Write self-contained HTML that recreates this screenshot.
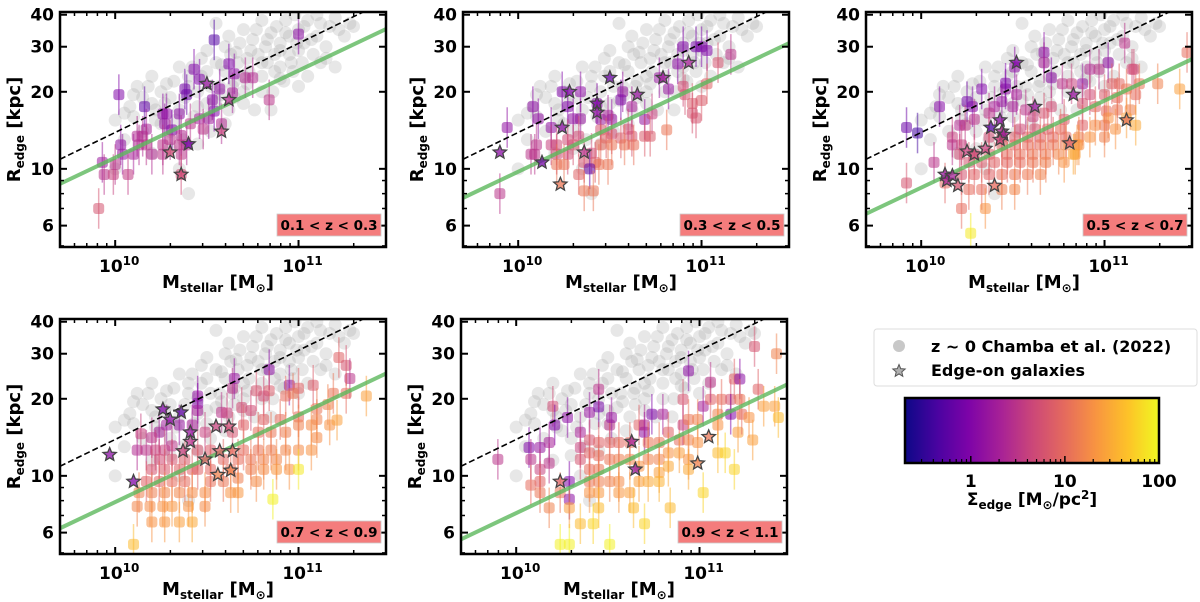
<!DOCTYPE html>
<html><head><meta charset="utf-8"><style>
html,body{margin:0;padding:0;background:#fff;}
svg{display:block;font-family:"DejaVu Sans","Liberation Sans",sans-serif;font-weight:bold;}
</style></head><body>
<svg id="fig" width="1200" height="602" viewBox="0 0 1200 602" xmlns="http://www.w3.org/2000/svg"></svg>
<script>
// ---- data ----
const zLabels = ["0.1 < z < 0.3","0.3 < z < 0.5","0.5 < z < 0.7","0.7 < z < 0.9","0.9 < z < 1.1"];
// reference z~0 sample: [log10 M, R kpc]
const grayPts = [[10.0,15.5],[10.05,13],[10.1,16],[10.15,19],[10.18,21],[10.2,18],[10.22,17],[10.25,15],[10.25,20],[10.3,14],[10.3,19],[10.32,22],[10.35,17],[10.37,13],[10.4,21],[10.42,25],[10.43,16],[10.45,20],[10.47,23],[10.5,29],[10.5,18],[10.52,14],[10.55,26],[10.55,37],[10.57,21],[10.6,30],[10.6,24],[10.62,17],[10.63,28],[10.65,22],[10.67,26],[10.68,31],[10.7,20],[10.7,35],[10.72,27],[10.73,24],[10.75,32],[10.76,17],[10.78,28],[10.8,23],[10.8,38],[10.82,30],[10.83,26],[10.85,34],[10.86,20],[10.87,28],[10.88,36],[10.9,25],[10.9,31],[10.92,22],[10.93,38],[10.95,28],[10.95,33],[10.97,24],[10.98,40],[11.0,29],[11.0,35],[11.02,26],[11.03,31],[11.05,38],[11.05,23],[11.08,28],[11.1,33],[11.1,40],[11.12,26],[11.15,30],[11.17,36],[11.2,25],[11.2,39],[11.25,33],[11.28,37],[10.45,12.5],[10.3,12],[10.6,15],[10.4,8],[10.35,10],[10.0,10],[10.7,18],[10.1,19.5],[10.2,11.5],[10.5,16],[10.65,19],[10.85,17],[11.0,21],[10.35,25],[10.2,23],[10.15,14],[10.08,17.5],[10.12,21],[10.27,18],[10.33,15.5],[10.38,19],[10.4,23],[10.47,27],[10.52,21],[10.55,18.5],[10.58,25.5],[10.62,33],[10.66,28.5],[10.7,23],[10.74,29],[10.77,35],[10.8,26],[10.83,32],[10.87,24],[10.9,29],[10.93,34],[10.96,26],[10.99,31],[11.03,36],[11.07,32],[11.12,37],[11.15,27],[11.22,35],[11.3,36],[10.58,19.5],[10.64,21],[10.72,21.5],[10.8,20],[10.9,22.5],[10.5,24],[10.45,17.5],[10.28,21.5],[10.22,15.5],[10.05,16.5]];
// galaxies per panel: [log10 M, R kpc, Sigma_edge]
const pts1 = [[10.02,19.5,1],[10.16,17.5,0.6],[10.54,31.9,0.5],[11.0,33.6,1.2],[10.43,24.5,1],[10.46,22.4,1],[10.38,20.5,0.8],[10.39,19.5,0.7],[10.62,25.7,1],[10.65,23.5,1.2],[10.71,22.7,2.5],[10.75,22.7,2.5],[10.57,20.5,1.3],[10.64,19.8,2],[10.84,18.6,3],[10.53,18.6,1.2],[10.54,16.8,1],[10.26,16.4,1.3],[10.28,16.4,1.3],[10.35,16.4,1.2],[10.46,15.7,2],[10.51,15.7,1.8],[10.41,15,3],[10.27,15,1.4],[10.31,14.2,1],[10.17,14.3,2],[10.48,14.3,3],[10.58,15,2.5],[10.12,13.4,2.5],[10.15,13.4,2.5],[10.36,13.5,2.5],[10.3,13,3],[10.26,12.4,3],[10.35,12.4,3],[10.39,12.4,2.5],[10.03,12.4,1.3],[10.13,12.4,2.5],[10.17,12.4,3],[10.04,11.4,1.5],[10.1,11.4,2],[10.2,11.4,2.5],[10.26,11.4,3],[10.36,11.4,3],[9.93,10.6,1.6],[9.94,9.5,3],[9.99,9.5,4],[10.07,9.5,3.5],[10.36,9.5,5],[9.91,7.0,6],[10.0,10.4,3]];
const stars1 = [[10.5,21.5,1.5],[10.62,18.6,2.5],[10.4,12.5,0.8],[10.3,11.6,5],[10.58,14,4],[10.36,9.5,5]];
const pts2 = [[9.9,8.0,3],[9.94,14.5,1.3],[10.08,17.5,1.2],[10.11,15.7,1.3],[10.18,14.5,1.3],[10.24,20,1],[10.27,17.5,1],[10.34,20,1.2],[10.3,15.7,1.3],[10.34,15.7,1.5],[10.43,18,1.1],[10.57,20,1.5],[10.56,18.6,1],[10.51,15.6,1.4],[10.45,15.6,1.5],[10.49,16.2,2],[10.62,17.5,2],[10.69,15.6,1.4],[10.73,16.4,4],[10.77,22.7,1.5],[10.82,20.5,1.5],[10.87,25.7,1.2],[10.9,30,1],[10.97,30,0.8],[11.0,30,0.9],[11.03,29,1],[11.16,28,3],[11.09,26,6],[10.9,21,5],[10.91,19.5,6],[10.95,18,7],[10.95,16.5,6],[10.97,15.8,6],[11.0,18.5,7],[11.03,21.5,8],[10.81,14.2,12],[10.51,13.7,5],[10.45,14.2,6],[10.48,13.2,8],[10.56,13.2,7],[10.62,13.4,6],[10.69,13.4,7],[10.72,13.4,7],[10.6,14.3,5],[10.45,12.4,10],[10.51,12.4,12],[10.58,12.4,12],[10.63,12.4,11],[10.33,13.4,5],[10.3,12.4,6],[10.27,13,5],[10.21,12.4,5],[10.18,12.4,4],[10.1,12.4,3],[10.09,11.4,3],[10.21,11.4,5],[10.27,11.4,5],[10.4,11.5,5],[10.36,10.6,6],[10.42,10.6,7],[10.44,10.4,12],[10.49,10.4,12],[10.25,10.4,12],[10.33,9.5,8],[10.39,10.0,0.6],[10.36,8.2,12],[10.41,8.2,12],[10.07,11.4,3],[10.21,10.4,12]];
const stars2 = [[9.9,11.6,1.2],[10.13,10.6,0.8],[10.28,20,1],[10.24,14.5,1.2],[10.43,18,1],[10.43,16.6,1.3],[10.5,22.7,0.7],[10.36,11.6,3],[10.23,8.7,12],[10.65,19.5,1.5],[10.79,22.7,1.8],[10.93,26,2]];
const pts3 = [[9.92,14.5,0.7],[9.98,13.8,0.4],[10.1,17.5,1.1],[10.25,18.3,0.8],[10.28,17.5,1],[10.33,20.5,1],[10.46,20.5,1.3],[10.51,25,1.2],[10.46,21.6,0.9],[10.52,19.5,2],[10.67,28.5,1.2],[10.67,26,2],[10.71,22.7,1.2],[10.77,21.5,3],[10.82,21.5,4],[10.88,21.5,1.5],[10.92,24.5,2.5],[10.97,24.5,3],[11.02,26,1.3],[11.11,31,3],[11.15,24.5,5],[11.16,24.5,5],[11.45,28.5,10],[11.41,20.5,25],[11.29,21.5,15],[11.19,21.5,12],[11.04,21.5,8],[11.08,21.5,9],[11.12,20.5,12],[11.17,19.5,10],[11.07,19,10],[11.0,19.5,7],[10.92,19.5,5],[10.88,18,6],[10.95,17.5,8],[11.01,16.8,10],[11.07,17,12],[11.14,17,15],[11.02,15.8,20],[11.12,15.8,25],[11.17,14.8,30],[11.0,14.8,12],[10.95,14.8,18],[10.88,14.8,8],[10.78,15.6,7],[10.71,17.5,5],[10.67,16.5,6],[10.61,16,4],[10.57,17,3],[10.5,17.5,2],[10.44,18.3,1.5],[10.4,17.5,2],[10.37,16.5,3],[10.29,15.6,3],[10.24,14.8,3.5],[10.21,14.8,2.5],[10.17,13.3,4],[10.17,12.4,3],[10.22,12.4,4],[10.21,11.4,5],[10.29,11.4,5],[10.37,13.3,5],[10.44,13.3,6],[10.51,13.3,7],[10.58,13.3,8],[10.65,13.3,8],[10.72,13.3,9],[10.79,13.3,10],[10.54,14.3,5],[10.62,14.3,6],[10.69,14.3,8],[10.76,14.3,10],[10.86,13.3,15],[10.92,13.3,20],[11.0,13.3,15],[11.06,14.3,20],[10.86,12.4,20],[10.44,12.4,8],[10.51,12.4,9],[10.58,12.4,10],[10.65,12.4,11],[10.72,12.4,12],[10.79,12.4,14],[10.47,11.4,10],[10.54,11.4,11],[10.61,11.4,12],[10.68,11.4,13],[10.75,11.4,16],[10.85,12.4,22],[10.84,11.4,25],[10.37,11.4,7],[10.26,10.6,6],[10.33,10.6,7],[10.4,10.6,8],[10.47,10.6,9],[10.54,10.6,10],[10.61,10.6,12],[10.68,10.6,14],[10.78,10.6,20],[10.83,11.4,30],[10.22,9.5,6],[10.29,9.5,8],[10.37,9.5,8],[10.44,9.5,10],[10.51,9.5,12],[10.58,9.5,13],[10.65,9.5,15],[10.26,8.3,10],[10.33,8.3,10],[10.44,8.3,14],[10.51,8.3,16],[10.13,8.8,9],[9.92,8.8,6],[10.22,7.0,10],[10.35,7.0,20],[10.27,5.6,80],[10.07,10.6,3]];
const stars3 = [[10.13,9.5,1.5],[10.14,9.0,2],[10.17,9.4,2],[10.2,8.6,6],[10.25,11.7,4],[10.29,11.4,5],[10.35,12,4],[10.38,14.5,0.5],[10.43,15.5,1.2],[10.44,14,2],[10.45,13.6,2],[10.43,13,4],[10.4,8.6,10],[10.52,26,1],[10.62,17.5,1.5],[10.81,12.6,8],[10.83,19.5,1.5],[11.12,15.5,12]];
const pts4 = [[10.84,26,1.2],[10.95,22.6,1.5],[11.22,29,8],[11.26,27,6],[11.28,24,3],[11.37,20.5,25],[11.26,21,10],[11.19,21,12],[11.08,22.6,7],[11.0,22,8],[10.93,20.5,10],[10.97,21,12],[10.84,21.5,7],[10.81,20.5,5],[10.77,21.5,6],[10.64,22,3],[10.65,24,1.5],[10.45,20.5,1.3],[10.45,19.2,1],[10.45,18,2],[10.58,17.7,3],[10.61,17.6,4],[10.69,18.5,5],[10.74,18,5],[10.81,16.6,8],[10.9,16.6,10],[11.0,17,10],[11.1,18.3,12],[11.16,19,15],[11.1,16.6,15],[11.17,15.8,20],[11.21,16.5,25],[11.07,15.8,18],[11.0,15.8,15],[10.93,14.8,14],[10.85,14.8,12],[10.78,14.8,10],[10.7,15.8,8],[10.64,14.8,6],[10.49,14.8,4],[10.42,15.8,2],[10.35,15.8,1.5],[10.28,15.8,1.8],[10.24,14.8,2],[10.2,14.1,3],[10.17,12.6,3],[10.12,12.6,2.5],[10.14,14.6,4],[10.22,12.6,4],[10.27,12.6,4],[10.31,13.1,3],[10.45,12.6,6],[10.52,12.6,7],[10.7,12.6,10],[10.78,12.6,12],[10.85,12.6,14],[10.93,12.6,16],[11.0,12.6,18],[11.07,12.6,20],[11.1,14.1,18],[10.24,11.6,5],[10.31,11.6,6],[10.38,11.6,7],[10.45,10.6,8],[10.52,10.6,9],[10.59,11.6,9],[10.67,11.6,10],[10.74,11.6,12],[10.81,11.6,15],[10.88,11.6,16],[10.95,10.6,20],[10.74,10.6,14],[10.81,10.6,18],[10.88,10.6,22],[11.0,10.6,80],[10.2,10.6,6],[10.27,10.6,7],[10.35,10.6,8],[10.42,10.6,8],[10.63,10.6,11],[10.67,9.8,14],[10.77,9.5,18],[10.59,9.5,12],[10.52,9.5,11],[10.38,9.5,10],[10.31,9.5,10],[10.24,9.5,9],[10.17,9.5,8],[10.13,8.6,14],[10.2,8.6,14],[10.27,8.6,16],[10.35,8.6,16],[10.42,8.6,18],[10.49,8.6,18],[10.63,8.6,20],[10.67,8.6,22],[10.86,8.1,90],[10.12,7.6,16],[10.19,7.6,18],[10.26,7.6,20],[10.31,7.6,22],[10.4,7.6,20],[10.49,7.6,18],[10.2,6.6,20],[10.27,6.6,22],[10.35,6.6,25],[10.42,6.6,30],[10.1,5.4,40]];
const stars4 = [[9.97,12.1,1.2],[10.1,9.5,1],[10.26,18.2,1],[10.3,16.6,1.2],[10.36,17.7,0.6],[10.41,14.8,1.5],[10.41,13.6,3],[10.37,12.5,4],[10.49,11.6,8],[10.55,15.6,4],[10.62,15.6,5],[10.57,12.5,8],[10.64,12.5,10],[10.56,10.1,15],[10.63,10.5,15]];
const pts5 = [[9.9,11.6,3],[10.07,12.9,1],[10.08,11.6,3],[10.13,12.9,1.5],[10.2,18.7,5],[10.21,15.8,1],[10.28,16.9,1.2],[10.18,13.5,2],[10.18,11.2,3],[10.13,10.6,4],[10.13,9.5,8],[10.08,9.2,10],[10.13,8.6,12],[10.18,7.5,15],[10.24,8.6,12],[10.29,9.5,1],[10.29,8.1,1.2],[10.35,14.8,2],[10.35,12.9,4],[10.35,11.6,6],[10.4,17.7,1.5],[10.45,18.6,0.8],[10.45,21.8,3],[10.4,13.8,6],[10.4,12.3,8],[10.4,10.6,10],[10.4,9.5,12],[10.4,8.6,20],[10.45,13.5,8],[10.45,12,10],[10.45,10.6,12],[10.45,9.5,14],[10.45,8.6,22],[10.45,7.5,40],[10.51,15.8,3],[10.51,13.5,8],[10.51,11.6,12],[10.51,9.5,15],[10.52,16.9,1.5],[10.56,13.5,9],[10.56,11.6,14],[10.56,9.5,18],[10.56,8.6,22],[10.62,13.5,10],[10.62,11.6,15],[10.62,8.6,25],[10.67,15.8,8],[10.67,10.9,20],[10.67,9.5,25],[10.7,14.8,1.3],[10.7,15.8,2.5],[10.74,17.4,1],[10.72,13.5,12],[10.72,11.6,15],[10.72,9.5,30],[10.78,13.5,12],[10.78,11.6,15],[10.78,10.3,25],[10.78,9.5,35],[10.8,17.4,2],[10.83,14.8,8],[10.83,12.3,20],[10.83,10.9,30],[10.84,7.5,40],[10.89,13.8,10],[10.89,12.3,25],[10.91,19.9,6],[10.91,15.8,4],[10.94,25.7,1.2],[10.94,16.6,12],[10.94,13.8,15],[10.94,11.6,20],[10.94,10.6,30],[10.99,16.6,15],[10.99,13.5,20],[11.02,18.7,2],[11.02,8.6,60],[11.06,19.9,8],[11.06,23.2,3],[11.1,17.4,15],[11.1,15.8,20],[11.1,12.3,40],[11.12,19.9,10],[11.17,19.9,6],[11.17,17.4,1],[11.19,23.9,8],[11.21,14.8,25],[11.22,23.9,1.2],[11.22,19.9,12],[11.23,17.4,10],[11.27,16.9,20],[11.29,13.8,25],[11.32,21.8,8],[11.3,32,6],[11.35,18.7,25],[11.41,18.7,25],[11.42,30,15],[11.43,16.9,40],[11.19,10.6,60],[11.14,12.3,60],[10.24,5.4,90],[10.29,5.4,90],[10.51,5.4,90],[10.7,6.5,60],[10.64,7.5,40],[10.29,7.5,25],[10.35,6.5,40],[10.42,6.5,60]];
const stars5 = [[10.24,9.5,8],[10.63,13.6,2],[10.65,10.6,1.5],[10.99,11.2,15],[11.05,14.2,12]];
// fit lines: R at M=5e9 (left) ; common slope
const greenAt5e9 = [8.74,7.7,6.67,6.24,5.65];
const greenSlope = [0.34,0.34,0.34,0.34,0.34];
const dashAt5e9 = 10.9, dashSlope = 0.348;
const yTicks = [6,10,20,30,40];
const yMinor = [5,7,8,9];
const xMajor = [10,11];
const xMinor = [9.778,9.845,9.903,9.954,10.301,10.477,10.602,10.699,10.778,10.845,10.903,10.954,11.301];
const cbTicks = [1,10,100];

const allPts=[pts1,pts2,pts3,pts4,pts5], allStars=[stars1,stars2,stars3,stars4,stars5];
// ---- layout ----
const NS="http://www.w3.org/2000/svg";
const svg=document.getElementById('fig');
function mk(tag,attrs,parent){const e=document.createElementNS(NS,tag);for(const k in attrs)e.setAttribute(k,attrs[k]);(parent||svg).appendChild(e);return e;}
const frames=[[60,12],[463,12],[866,12],[60,319],[461,319]];
const W=326,H=235;
const XMIN=Math.log10(5e9),XMAX=Math.log10(3e11),YMIN=Math.log10(4.95),YMAX=Math.log10(41);
const stops=[[0,[13,8,135]],[0.13,[75,3,161]],[0.25,[125,3,168]],[0.38,[168,34,150]],[0.5,[203,70,121]],[0.63,[229,107,93]],[0.75,[248,148,65]],[0.88,[253,195,40]],[1,[240,249,33]]];
function cmap(s){let t=Math.log(s/0.2)/Math.log(500);t=Math.max(0,Math.min(1,t));for(let i=1;i<stops.length;i++){if(t<=stops[i][0]){const a=stops[i-1],b=stops[i],f=(t-a[0])/(b[0]-a[0]);const c=a[1].map((v,j)=>Math.round(v+(b[1][j]-v)*f));return `rgb(${c})`;}}return 'rgb(240,249,33)';}
function starPath(cx,cy,r){let d='';for(let i=0;i<10;i++){const rr=i%2?r*0.45:r;const a=-Math.PI/2+i*Math.PI/5;d+=(i?'L':'M')+(cx+rr*Math.cos(a)).toFixed(1)+','+(cy+rr*Math.sin(a)).toFixed(1);}return d+'Z';}

frames.forEach(([fx,fy],p)=>{
  const xs=v=>fx+(v-XMIN)/(XMAX-XMIN)*W;
  const ys=r=>fy+H-(Math.log10(r)-YMIN)/(YMAX-YMIN)*H;
  const g=mk('g',{});
  
  
  const cid='clip'+p;
  const cp=mk('clipPath',{id:cid},g);mk('rect',{x:fx,y:fy,width:W,height:H},cp);
  const pl=mk('g',{'clip-path':`url(#${cid})`},g);
  grayPts.forEach(d=>{const c=mk('circle',{cx:xs(d[0]),cy:ys(d[1]),r:6.5,fill:'#a9a9a9','fill-opacity':0.28},pl);
    
    });
  allPts[p].forEach(d=>{const x=xs(d[0]),y=ys(d[1]),col=cmap(d[2]);
    mk('line',{x1:x,x2:x,y1:ys(d[1]*1.2),y2:ys(d[1]/1.2),stroke:col,'stroke-opacity':0.5,'stroke-width':1.5},pl);
    const r=mk('rect',{x:x-5.5,y:y-5.5,width:11,height:11,rx:3,fill:col,'fill-opacity':0.55},pl);
    
    });
  const l1=mk('line',{x1:xs(XMIN),y1:ys(dashAt5e9),x2:xs(XMAX),y2:ys(dashAt5e9*Math.pow(60,dashSlope)),stroke:'#000','stroke-width':1.6,'stroke-dasharray':'6,3'},pl);
  
  
  const l2=mk('line',{x1:xs(XMIN),y1:ys(greenAt5e9[p]),x2:xs(XMAX),y2:ys(greenAt5e9[p]*Math.pow(60,greenSlope[p])),stroke:'#5cb85c','stroke-opacity':0.8,'stroke-width':4},pl);
  
  
  allStars[p].forEach(d=>{const s=mk('path',{d:starPath(xs(d[0]),ys(d[1]),7),fill:cmap(d[2]),'fill-opacity':0.75,stroke:'#444','stroke-width':1.3},pl);
    
    });
  mk('rect',{x:fx,y:fy,width:W,height:H,fill:'none',stroke:'#000','stroke-width':2.5},g);
  yTicks.forEach(t=>{const y=ys(t);mk('line',{x1:fx,x2:fx+7,y1:y,y2:y,stroke:'#000','stroke-width':2},g);mk('line',{x1:fx+W-7,x2:fx+W,y1:y,y2:y,stroke:'#000','stroke-width':2},g);
    const tx=mk('text',{x:fx-6,y:y+6,'text-anchor':'end','font-size':17},g);tx.textContent=t;
    
    });
  yMinor.forEach(t=>{const y=ys(t);mk('line',{x1:fx,x2:fx+4,y1:y,y2:y,stroke:'#000','stroke-width':1.5},g);mk('line',{x1:fx+W-4,x2:fx+W,y1:y,y2:y,stroke:'#000','stroke-width':1.5},g);});
  xMajor.forEach(t=>{const x=xs(t);mk('line',{x1:x,x2:x,y1:fy+H,y2:fy+H-7,stroke:'#000','stroke-width':2},g);mk('line',{x1:x,x2:x,y1:fy,y2:fy+7,stroke:'#000','stroke-width':2},g);
    const tx=mk('text',{x:x+4,y:fy+H+25,'text-anchor':'middle','font-size':17},g);tx.textContent='10';
    const sp=mk('tspan',{dy:-7,'font-size':12},tx);sp.textContent=String(t);
    
    });
  xMinor.forEach(t=>{const x=xs(t);mk('line',{x1:x,x2:x,y1:fy+H,y2:fy+H-4,stroke:'#000','stroke-width':1.5},g);mk('line',{x1:x,x2:x,y1:fy,y2:fy+4,stroke:'#000','stroke-width':1.5},g);});
  const yl=mk('text',{transform:`translate(${fx-40},${fy+H/2}) rotate(-90)`,'text-anchor':'middle','font-size':18},g);
  yl.textContent='R';const ys1=mk('tspan',{'font-size':12,dy:4},yl);ys1.textContent='edge';const ys2=mk('tspan',{dy:-4},yl);ys2.textContent=' [kpc]';
  
  
  const xl=mk('text',{x:fx+W/2-5,y:fy+H+41,'text-anchor':'middle','font-size':18},g);
  xl.textContent='M';const xs1=mk('tspan',{'font-size':12,dy:4},xl);xs1.textContent='stellar';const xs2=mk('tspan',{dy:-4},xl);xs2.textContent=' [M';const xs3=mk('tspan',{'font-size':12,dy:4},xl);xs3.textContent='⊙';const xs4=mk('tspan',{dy:-4},xl);xs4.textContent=']';
  
  
  const zb=mk('rect',{x:fx+W-109,y:fy+H-33,width:104,height:22,fill:'#f47c7c',stroke:'#ccc','stroke-width':0.8},g);
  
  
  const zt=mk('text',{x:fx+W-57,y:fy+H-17,'text-anchor':'middle','font-size':13.5},g);zt.textContent=zLabels[p];
  
  
});
// legend
const lg=mk('g',{});


mk('rect',{x:874,y:329,width:323,height:57,rx:3,fill:'#fff',stroke:'#ddd','stroke-width':1},lg);
mk('circle',{cx:899,cy:346,r:6,fill:'#c8c8c8'},lg);
const le1=mk('text',{x:931,y:352,'font-size':16},lg);le1.textContent='z ~ 0 Chamba et al. (2022)';


mk('path',{d:starPath(899,371,6.5),fill:'#b0b0b0',stroke:'#555','stroke-width':1},lg);
const le2=mk('text',{x:931,y:376,'font-size':16},lg);le2.textContent='Edge-on galaxies';


// colorbar
const cb=mk('g',{});


const defs=mk('defs',{},cb);const lgd=mk('linearGradient',{id:'plasma',x1:0,x2:1,y1:0,y2:0},defs);
stops.forEach(s=>mk('stop',{offset:s[0],'stop-color':`rgb(${s[1]})`},lgd));
const CBX=905,CBW=254,CBY=398,CBH=65;
mk('rect',{x:CBX,y:CBY,width:CBW,height:CBH,fill:'url(#plasma)',stroke:'#000','stroke-width':2.5},cb);
const cbx=v=>CBX+Math.log(v/0.2)/Math.log(500)*CBW;
[0.3,0.4,0.5,0.6,0.7,0.8,0.9,2,3,4,5,6,7,8,9,20,30,40,50,60,70,80,90].forEach(v=>mk('line',{x1:cbx(v),x2:cbx(v),y1:CBY+CBH,y2:CBY+CBH-4,stroke:'#000','stroke-width':1.2},cb));
cbTicks.forEach(v=>{mk('line',{x1:cbx(v),x2:cbx(v),y1:CBY+CBH,y2:CBY+CBH-7,stroke:'#000','stroke-width':1.5},cb);
  const t=mk('text',{x:cbx(v),y:CBY+CBH+24,'text-anchor':'middle','font-size':17},cb);t.textContent=v;
  
  });
const cl=mk('text',{x:1032,y:505,'text-anchor':'middle','font-size':17},cb);
cl.textContent='Σ';const c1=mk('tspan',{'font-size':12,dy:4},cl);c1.textContent='edge';const c2=mk('tspan',{dy:-4},cl);c2.textContent=' [M';const c3=mk('tspan',{'font-size':12,dy:4},cl);c3.textContent='⊙';const c4=mk('tspan',{dy:-4},cl);c4.textContent='/pc';const c5=mk('tspan',{'font-size':12,dy:-6},cl);c5.textContent='2';const c6=mk('tspan',{dy:6},cl);c6.textContent=']';


</script>
</body></html>
